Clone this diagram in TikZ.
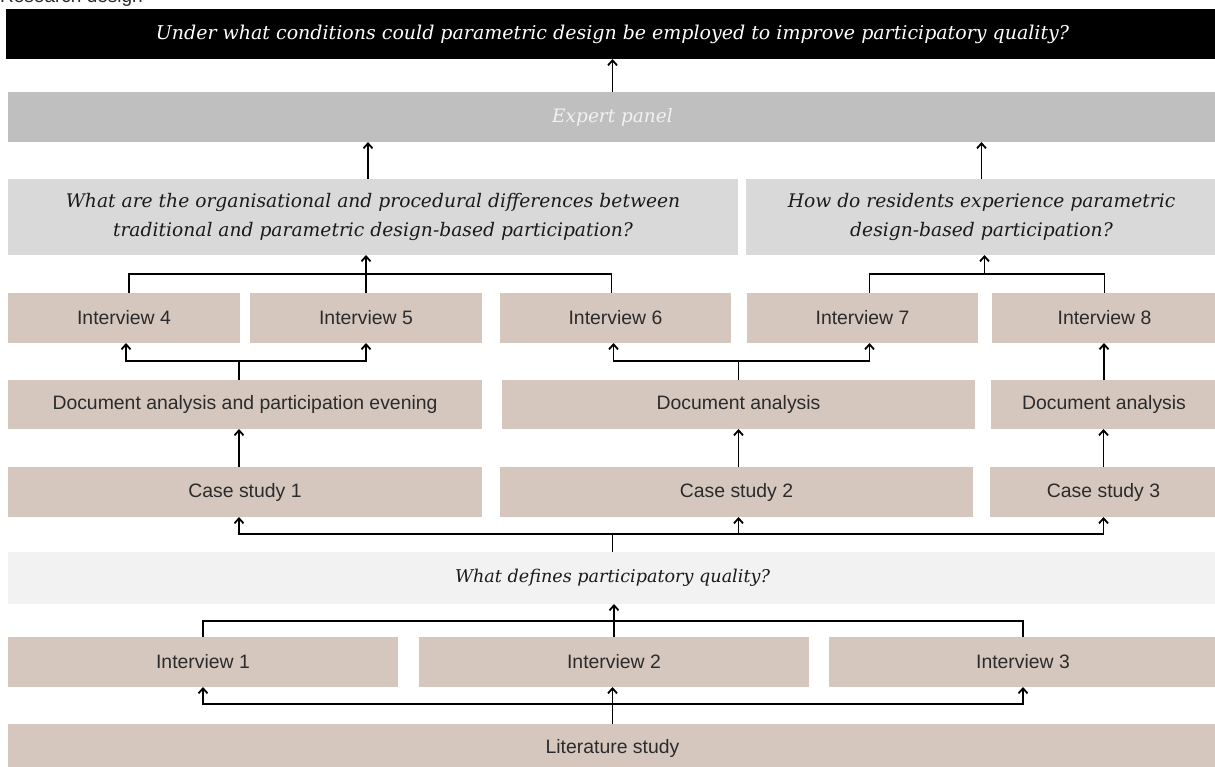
\documentclass[tikz,border=0pt]{standalone}
\usepackage{fontspec}
\setmainfont{DejaVu Serif}
\setsansfont{Liberation Sans}
\usetikzlibrary{arrows.meta,calc}
\definecolor{beige}{HTML}{D5C7BE}
\definecolor{qgray}{HTML}{D9D9D9}
\definecolor{egray}{HTML}{BFBFBF}
\definecolor{lgray}{HTML}{F2F2F2}
\definecolor{stext}{HTML}{2B2B2B}
\definecolor{qtext}{HTML}{1A1A1A}
\newcommand\bx[7]{\node[#6,minimum width={#4-#2},minimum height={#5-#3}] (#1) at ({(#2+#4)/2},{(#3+#5)/2}) {#7};}
\begin{document}
\begin{tikzpicture}[x=1pt,y=-1pt,
  boxbase/.style={inner sep=0pt,outer sep=0pt,draw=none,align=center},
  blackbox/.style={boxbase,fill=black,text=white,font=\fontsize{19}{22}\selectfont\itshape},
  expbox/.style={boxbase,fill=egray,text=lgray,font=\fontsize{18.5}{22}\selectfont\itshape},
  qbox/.style={boxbase,fill=qgray,text=qtext,font=\fontsize{18.7}{29}\selectfont\itshape},
  wdbox/.style={boxbase,fill=lgray,text=qtext,font=\fontsize{17.6}{22}\selectfont\itshape},
  ibox/.style={boxbase,fill=beige,text=stext,font=\fontsize{19.4}{22}\selectfont\sffamily},
  ln/.style={line width=1.8pt,black},
  arr/.style={ln,-{Straight Barb[length=5pt,width=9pt]}},
  arrtwo/.style={ln,{Straight Barb[length=5pt,width=9pt]}-{Straight Barb[length=5pt,width=9pt]}}]
\useasboundingbox (0,0) rectangle (1215,767);
\node[anchor=base west,inner sep=0pt,text=stext,font=\fontsize{19}{22}\selectfont\sffamily] (title) at (0,3) {Research design};
\bx{top}{6}{9}{1219}{59}{blackbox}{Under what conditions could parametric design be employed to improve participatory quality?}
\bx{exp}{8}{92}{1217}{142}{expbox}{Expert panel}
\bx{qL}{8}{179}{738}{255}{qbox}{What are the organisational and procedural differences between\\traditional and parametric design-based participation?}
\bx{qR}{746}{179}{1217}{255}{qbox}{How do residents experience parametric\\design-based participation?}
\bx{i4}{8}{293}{240}{343}{ibox}{Interview 4}
\bx{i5}{250}{293}{482}{343}{ibox}{Interview 5}
\bx{i6}{500}{293}{731}{343}{ibox}{Interview 6}
\bx{i7}{747}{293}{978}{343}{ibox}{Interview 7}
\bx{i8}{992}{293}{1217}{343}{ibox}{Interview 8}
\bx{d1}{8}{380}{482}{429}{ibox}{Document analysis and participation evening}
\bx{d2}{502}{380}{975}{429}{ibox}{Document analysis}
\bx{d3}{991}{380}{1217}{429}{ibox}{Document analysis}
\bx{c1}{8}{467}{482}{517}{ibox}{Case study 1}
\bx{c2}{500}{467}{973}{517}{ibox}{Case study 2}
\bx{c3}{990}{467}{1217}{517}{ibox}{Case study 3}
\bx{wd}{8}{552}{1217}{604}{wdbox}{What defines participatory quality?}
\bx{i1}{8}{637}{398}{687}{ibox}{Interview 1}
\bx{i2}{419}{637}{809}{687}{ibox}{Interview 2}
\bx{i3}{829}{637}{1217}{687}{ibox}{Interview 3}
\bx{lit}{8}{724}{1217}{772}{ibox}{Literature study}
% connector levels
\coordinate (yA) at (0,274);
\coordinate (yB) at (0,361);
\coordinate (yC) at (0,534);
\coordinate (yD) at (0,621);
\coordinate (yE) at (0,704);
% attachment points
\coordinate (qLa) at ([xshift=-5pt]qL.north);
\coordinate (qRa) at ([xshift=3pt]qR.south);
\coordinate (i4a) at ([xshift=5pt]i4.north);
\coordinate (i6a) at ([xshift=-4pt]i6.north);
\coordinate (i7a) at ([xshift=7pt]i7.north);
\coordinate (i4b) at ([xshift=2pt]i4.south);
\coordinate (i6b) at ([xshift=-2pt]i6.south);
\coordinate (i7b) at ([xshift=7pt]i7.south);
\coordinate (d1a) at ([xshift=-6pt]d1.north);
\coordinate (c1a) at ([xshift=-6pt]c1.north);
\coordinate (c1b) at ([xshift=-6pt]c1.south);
\coordinate (c2a) at ([xshift=2pt]c2.north);
\coordinate (c2b) at ([xshift=2pt]c2.south);
% top
\draw[arr] (exp.north) -- (top.south);
\draw[arr] (qLa) -- (qLa |- exp.south);
\draw[arr] (qR.north) -- (qR.north |- exp.south);
% interviews 4-8 to questions
\draw[ln] (i4a) |- (yA -| i6a) -- (i6a);
\draw[arr] (i5.north) -- (i5.north |- qL.south);
\draw[ln] (i7a) |- (yA -| i8.north) -- (i8.north);
\draw[arr] (yA -| qRa) -- (qRa);
% document analyses to interviews
\draw[ln] (d1a) -- (d1a |- yB);
\draw[arrtwo] (i4b) |- (yB -| i5.south) -- (i5.south);
\draw[ln] (d2.north) -- (d2.north |- yB);
\draw[arrtwo] (i6b) |- (yB -| i7b) -- (i7b);
\draw[arr] (d3.north) -- (d3.north |- i8.south);
% case studies to document analyses
\draw[arr] (c1a) -- (c1a |- d1.south);
\draw[arr] (c2a) -- (c2a |- d2.south);
\draw[arr] (c3.north) -- (c3.north |- d3.south);
% participatory quality to case studies
\draw[ln] (wd.north) -- (wd.north |- yC);
\draw[arrtwo] (c1b) |- (yC -| c3.south) -- (c3.south);
\draw[arr] (c2b |- yC) -- (c2b);
% interviews 1-3 to participatory quality
\draw[arr] (i2.north) -- (i2.north |- wd.south);
\draw[ln] (i1.north) |- (yD -| i3.north) -- (i3.north);
% literature to interviews 1-3
\draw[arr] (lit.north) -- (lit.north |- i2.south);
\draw[arrtwo] (i1.south) |- (yE -| i3.south) -- (i3.south);
\end{tikzpicture}
\end{document}
